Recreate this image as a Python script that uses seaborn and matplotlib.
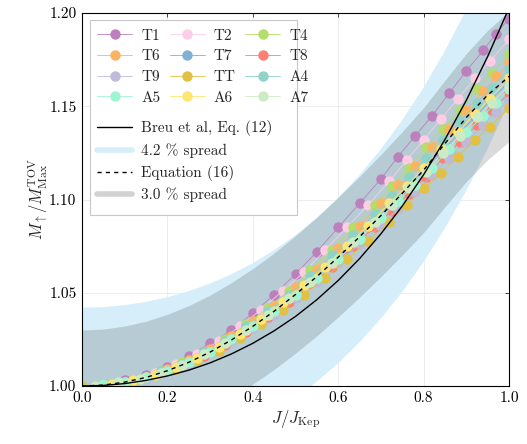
import matplotlib
matplotlib.use("Agg")
import matplotlib.pyplot as plt
from matplotlib.lines import Line2D
from matplotlib.patches import Rectangle
import seaborn as sns
import pandas as pd
import numpy as np

# Valores
J_GRID_A = [0.05, 0.10, 0.15, 0.20, 0.25, 0.30, 0.35, 0.40, 0.45, 0.50, 0.55,
            0.60, 0.65, 0.70, 0.74, 0.78, 0.82, 0.86, 0.90, 0.94, 0.97, 1.00]
J_GRID_B = [0.07, 0.12, 0.17, 0.22, 0.27, 0.32, 0.37, 0.42, 0.47, 0.52, 0.57,
            0.62, 0.67, 0.72, 0.76, 0.80, 0.84, 0.88, 0.92, 0.955, 1.00]
J_GRID_C = [0.03, 0.085, 0.135, 0.185, 0.235, 0.285, 0.335, 0.385, 0.435, 0.485, 0.535,
            0.585, 0.635, 0.685, 0.725, 0.765, 0.805, 0.845, 0.885, 0.925, 0.96, 1.00]
J_TT = [0.00, 0.07, 0.12, 0.17, 0.22, 0.27, 0.32, 0.37, 0.42, 0.47, 0.52, 0.57,
        0.62, 0.67, 0.72, 0.76, 0.80, 0.84, 0.88, 0.92, 0.955, 1.00]

M_T1 = [1.001, 1.003, 1.006, 1.010, 1.016, 1.023, 1.030, 1.039, 1.049, 1.060, 1.072,
        1.085, 1.098, 1.111, 1.123, 1.134, 1.145, 1.157, 1.169, 1.180, 1.189, 1.197]
M_T2 = [1.001, 1.003, 1.007, 1.012, 1.017, 1.024, 1.032, 1.041, 1.051, 1.061, 1.073,
        1.085, 1.097, 1.110, 1.121, 1.132, 1.143, 1.154, 1.165, 1.174, 1.186]
M_T4 = [1.000, 1.002, 1.004, 1.008, 1.013, 1.018, 1.025, 1.033, 1.042, 1.051, 1.062,
        1.073, 1.085, 1.097, 1.107, 1.117, 1.128, 1.138, 1.148, 1.159, 1.168, 1.178]
M_T6 = [1.001, 1.002, 1.005, 1.009, 1.014, 1.020, 1.027, 1.035, 1.043, 1.053, 1.063,
        1.074, 1.086, 1.098, 1.108, 1.118, 1.128, 1.138, 1.148, 1.158, 1.166, 1.173]
M_T7 = [1.001, 1.003, 1.006, 1.010, 1.015, 1.021, 1.028, 1.036, 1.044, 1.054, 1.064,
        1.074, 1.085, 1.097, 1.106, 1.116, 1.125, 1.135, 1.144, 1.153, 1.163]
M_T8 = [1.000, 1.001, 1.004, 1.007, 1.011, 1.016, 1.022, 1.029, 1.037, 1.045, 1.055,
        1.064, 1.075, 1.085, 1.094, 1.103, 1.112, 1.122, 1.131, 1.140, 1.148, 1.157]
M_T9 = [1.000, 1.002, 1.004, 1.008, 1.012, 1.018, 1.024, 1.031, 1.038, 1.047, 1.056,
        1.066, 1.076, 1.086, 1.095, 1.104, 1.113, 1.122, 1.131, 1.140, 1.147, 1.153]
M_TT = [1.000, 1.001, 1.003, 1.006, 1.009, 1.014, 1.019, 1.026, 1.033, 1.041, 1.049, 1.058,
        1.068, 1.078, 1.088, 1.097, 1.106, 1.114, 1.123, 1.132, 1.139, 1.149]
M_A4 = [1.000, 1.002, 1.004, 1.008, 1.012, 1.018, 1.024, 1.032, 1.040, 1.049, 1.059,
        1.070, 1.081, 1.092, 1.102, 1.112, 1.122, 1.132, 1.142, 1.152, 1.160, 1.170]
M_A5 = [1.001, 1.002, 1.005, 1.008, 1.013, 1.018, 1.025, 1.032, 1.040, 1.049, 1.058,
        1.068, 1.079, 1.090, 1.099, 1.108, 1.117, 1.127, 1.136, 1.145, 1.152, 1.159]
M_A6 = [1.001, 1.003, 1.006, 1.010, 1.015, 1.021, 1.028, 1.036, 1.045, 1.054, 1.064,
        1.075, 1.086, 1.098, 1.107, 1.117, 1.127, 1.136, 1.146, 1.154, 1.165]
M_A7 = [1.000, 1.002, 1.004, 1.007, 1.011, 1.017, 1.023, 1.030, 1.038, 1.047, 1.056,
        1.066, 1.077, 1.088, 1.097, 1.106, 1.115, 1.125, 1.134, 1.144, 1.152, 1.161]

SERIES = ["T1", "T2", "T4", "T6", "T7", "T8", "T9", "TT", "A4", "A5", "A6", "A7"]
SERIES_J = {"T1": J_GRID_A, "T2": J_GRID_B, "T4": J_GRID_C, "T6": J_GRID_A,
            "T7": J_GRID_B, "T8": J_GRID_C, "T9": J_GRID_A, "TT": J_TT,
            "A4": J_GRID_C, "A5": J_GRID_A, "A6": J_GRID_B, "A7": J_GRID_C}
SERIES_M = {"T1": M_T1, "T2": M_T2, "T4": M_T4, "T6": M_T6, "T7": M_T7, "T8": M_T8,
            "T9": M_T9, "TT": M_TT, "A4": M_A4, "A5": M_A5, "A6": M_A6, "A7": M_A7}
CORES = {"T1": "#BC80BD", "T2": "#FCCDE5", "T4": "#B3DE69", "T6": "#FDB462",
         "T7": "#80B1D3", "T8": "#FB8072", "T9": "#BEBADA", "TT": "#E2C044",
         "A4": "#8DD3C7", "A5": "#9EF5D3", "A6": "#FEE670", "A7": "#CCEBC5"}

# Curvas de referência
J_REF = [0.00, 0.05, 0.10, 0.15, 0.20, 0.25, 0.30, 0.35, 0.40, 0.45, 0.50,
         0.55, 0.60, 0.65, 0.70, 0.75, 0.80, 0.85, 0.90, 0.95, 1.00]
M_BREU = [1.0000, 1.0003, 1.0013, 1.0030, 1.0054, 1.0085, 1.0124, 1.0172, 1.0229, 1.0296, 1.0373,
          1.0463, 1.0566, 1.0683, 1.0816, 1.0965, 1.1133, 1.1322, 1.1532, 1.1767, 1.2027]
M_EQ16 = [1.0000, 1.0005, 1.0021, 1.0046, 1.0082, 1.0127, 1.0182, 1.0247, 1.0320, 1.0401, 1.0491,
          1.0587, 1.0691, 1.0800, 1.0914, 1.1033, 1.1158, 1.1300, 1.1440, 1.1560, 1.1660]
SPREAD_BREU = 0.042
SPREAD_EQ16 = 0.030

# Montar DataFrame longo
linhas = []
for nome in SERIES:
    for j, m in zip(SERIES_J[nome], SERIES_M[nome]):
        linhas.append({"J": j, "M": m, "serie": nome})
df = pd.DataFrame(linhas)

sns.set_style("whitegrid")
plt.rcParams['font.family'] = ['cmr10', 'DejaVu Serif']
plt.rcParams['mathtext.fontset'] = 'cm'
plt.rcParams['axes.formatter.use_mathtext'] = True

fig = plt.figure(figsize=(5.27, 4.44), dpi=100)
ax = fig.add_axes([0.1556, 0.1306, 0.8103, 0.8401])

breu = np.array(M_BREU)
eq16 = np.array(M_EQ16)
ax.fill_between(J_REF, breu * (1 - SPREAD_BREU), breu * (1 + SPREAD_BREU),
                color='#D5EEF9', lw=0, zorder=1)
ax.fill_between(J_REF, eq16 * (1 - SPREAD_EQ16), eq16 * (1 + SPREAD_EQ16),
                color='black', alpha=0.145, lw=0, zorder=1.1)

sns.lineplot(data=df, x='J', y='M', hue='serie', hue_order=SERIES, palette=CORES,
             estimator=None, marker='o', markersize=7.5, markeredgewidth=0,
             linewidth=0.6, legend=False, ax=ax, zorder=2)

sns.lineplot(x=J_REF, y=M_BREU, color='black', linewidth=1.0, ax=ax, zorder=3)
sns.lineplot(x=J_REF, y=M_EQ16, color='black', linewidth=1.0, linestyle=(0, (3, 3)),
             ax=ax, zorder=3)

ax.set_xlim(0, 1)
ax.set_ylim(1.0, 1.2)
ax.set_xticks([0.0, 0.2, 0.4, 0.6, 0.8, 1.0])
ax.set_yticks([1.00, 1.05, 1.10, 1.15, 1.20])
ax.set_xticklabels([f'{v:.1f}' for v in [0.0, 0.2, 0.4, 0.6, 0.8, 1.0]])
ax.set_yticklabels([f'{v:.2f}' for v in [1.00, 1.05, 1.10, 1.15, 1.20]])
ax.tick_params(direction='in', top=True, right=True, length=3, width=0.5,
               labelsize=11, colors='black', pad=4)
ax.grid(True, color='#E6E6E6', linewidth=0.5)
for s in ax.spines.values():
    s.set_color('black')
    s.set_linewidth(0.8)

ax.set_xlabel(r'$J/J_{\mathrm{Kep}}$', fontsize=12, labelpad=2)
ax.set_ylabel(r'$M_{\uparrow}/M_{\mathrm{Max}}^{\mathrm{TOV}}$', fontsize=12, labelpad=-1)

# Legenda: caixa única com duas partes
ax.add_patch(Rectangle((0.0187, 0.4584), 0.4848, 0.5226, transform=ax.transAxes,
                       facecolor='white', edgecolor='#C8C8C8', lw=0.8, zorder=4))

# matplotlib preenche por coluna; reordenar para ler por linha
ordem = [SERIES[i + 3 * r] for i in range(3) for r in range(4)]
handles_pts = [Line2D([], [], color=CORES[n], marker='o', markersize=7.5,
                      markeredgewidth=0, lw=0.6) for n in ordem]
leg1 = ax.legend(handles_pts, ordem, ncol=3, loc='upper left',
                 bbox_to_anchor=(0.035, 0.957), frameon=False, fontsize=11,
                 handlelength=2.3, handletextpad=0.6, columnspacing=0.6,
                 labelspacing=0.45, borderpad=0, borderaxespad=0)
leg1.set_zorder(5)
ax.add_artist(leg1)

handles_lin = [Line2D([], [], color='black', lw=1.0),
               Line2D([], [], color='#D5EEF9', lw=4),
               Line2D([], [], color='black', lw=1.0, linestyle=(0, (3, 3))),
               Line2D([], [], color='#D2D2D2', lw=4)]
labels_lin = ['Breu et al, Eq. (12)', '4.2 % spread', 'Equation (16)', '3.0 % spread']
leg2 = ax.legend(handles_lin, labels_lin, loc='upper left',
                 bbox_to_anchor=(0.035, 0.712), frameon=False, fontsize=11,
                 handlelength=2.3, handletextpad=0.6, labelspacing=0.45,
                 borderpad=0, borderaxespad=0)
leg2.set_zorder(5)

plt.savefig('out.png', dpi=100)
plt.close()
